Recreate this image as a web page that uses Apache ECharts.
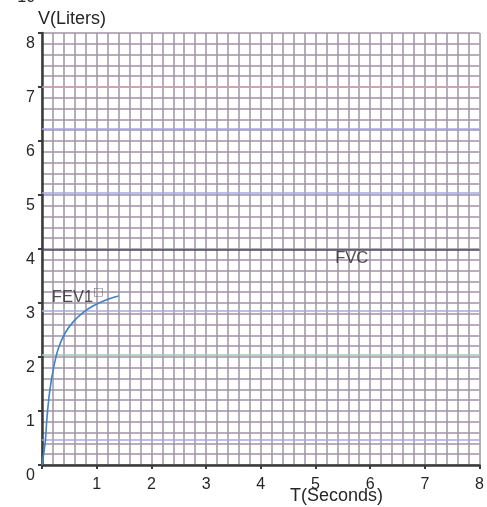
<!DOCTYPE html>
<html>
<head>
<meta charset="utf-8">
<style>
html,body{margin:0;padding:0;background:#fff;}
#c{width:487px;height:507px;}
</style>
<script src="https://cdn.jsdelivr.net/npm/echarts@6/dist/echarts.min.js"></script>
</head>
<body>
<div id="c"></div>
<script>
// FEV1 curve (T seconds, V liters)
const curveT = [0, 0.03, 0.06, 0.09, 0.14, 0.21, 0.3, 0.42, 0.57, 0.76, 0.94, 1.18, 1.4];
const curveV = [0, 0.2, 0.43, 0.86, 1.36, 1.79, 2.16, 2.44, 2.65, 2.83, 2.95, 3.06, 3.13];
// FVC level
const fvcLevel = 3.98;
const fvcT = [0, 8];
// axis ticks
const xTicks = [0, 1, 2, 3, 4, 5, 6, 7, 8];
const yTicks = [0, 1, 2, 3, 4, 5, 6, 7, 8];
// tinted paper lines
const blueLevels = [0.46, 2.85, 5.05, 6.22];
const redLevels = [7.0];
const greenLevels = [2.04];
// annotations
const fevLabel = {t: 0.18, v: 3.1, text: 'FEV1'};
const fvcLabel = {t: 5.36, v: 3.83, text: 'FVC'};

const chart = echarts.init(document.getElementById('c'), null, {renderer: 'canvas'});
const gridColor = '#a093a5';
const FONT = 'Liberation Sans, Arial, sans-serif';
const TXT = '#262626';
const labelFont = {color: TXT, fontSize: 16, fontFamily: FONT};

function levelLines(levels, color) {
  return levels.map(v => ({yAxis: v, lineStyle: {color: color, width: 1.5, type: 'solid'}}));
}

chart.setOption({
  animation: false,
  backgroundColor: '#ffffff',
  grid: {left: 42, right: 4, top: 33, bottom: 42},
  xAxis: {
    type: 'value', min: xTicks[0], max: xTicks[xTicks.length - 1], interval: 1,
    axisLine: {show: true, onZero: false, lineStyle: {color: '#3a3a3a', width: 2.5}},
    axisTick: {show: true, length: 4, lineStyle: {color: '#3a3a3a', width: 2}},
    axisLabel: Object.assign({margin: 12, formatter: v => v === 0 ? '' : String(v)}, labelFont),
    splitLine: {show: true, lineStyle: {color: gridColor, width: 1.5}},
    minorTick: {show: false, splitNumber: 5},
    minorSplitLine: {show: true, lineStyle: {color: gridColor, width: 1.5}}
  },
  yAxis: {
    type: 'value', min: yTicks[0], max: yTicks[yTicks.length - 1], interval: 1,
    axisLine: {show: true, onZero: false, lineStyle: {color: '#3a3a3a', width: 2.5}},
    axisTick: {show: true, length: 4, lineStyle: {color: '#3a3a3a', width: 2}},
    axisLabel: Object.assign({margin: 7, verticalAlign: 'top', padding: [3, 0, 0, 0]}, labelFont),
    splitLine: {show: true, lineStyle: {color: gridColor, width: 1.5}},
    minorTick: {show: false, splitNumber: 5},
    minorSplitLine: {show: true, lineStyle: {color: gridColor, width: 1.5}}
  },
  series: [
    {
      type: 'line', data: [], silent: true,
      markLine: {
        silent: true, symbol: ['none', 'none'], label: {show: false},
        data: [].concat(levelLines(blueLevels, '#a3a8e2'), levelLines(redLevels, '#d8a0b0'), levelLines(greenLevels, '#a3c7b5'))
      }
    },
    {
      type: 'line', data: fvcT.map(t => [t, fvcLevel]), symbol: 'none',
      lineStyle: {color: '#4a4a55', width: 1.5}
    },
    {
      type: 'line', data: curveT.map((t, i) => [t, curveV[i]]), symbol: 'none', showSymbol: false, smooth: 0.35,
      lineStyle: {color: '#3f82c8', width: 1.6}, z: 5
    },
    {
      type: 'scatter', symbolSize: 0, silent: true,
      data: [[fevLabel.t, fevLabel.v], [fvcLabel.t, fvcLabel.v]],
      label: {
        show: true, position: 'inside',
        formatter: p => p.dataIndex === 0 ? '{a|' + fevLabel.text + '}{b|□}' : '{a|' + fvcLabel.text + '}',
        rich: {
          a: {color: TXT, fontSize: 16.5, fontFamily: FONT},
          b: {color: '#555', fontSize: 11, verticalAlign: 'top', padding: [0, 0, 10, 0], fontFamily: 'DejaVu Sans'}
        },
        align: 'left'
      }
    }
  ],
  graphic: [
    {type: 'text', left: 38, top: 10, style: {text: 'V(Liters)', fill: TXT, font: '18px ' + FONT}},
    {type: 'text', left: 290, top: 487, style: {text: 'T(Seconds)', fill: TXT, font: '18px ' + FONT}},
    {type: 'text', left: 12, top: -10, style: {text: '-10', fill: TXT, font: '16px ' + FONT}}
  ]
});
</script>
</body>
</html>
